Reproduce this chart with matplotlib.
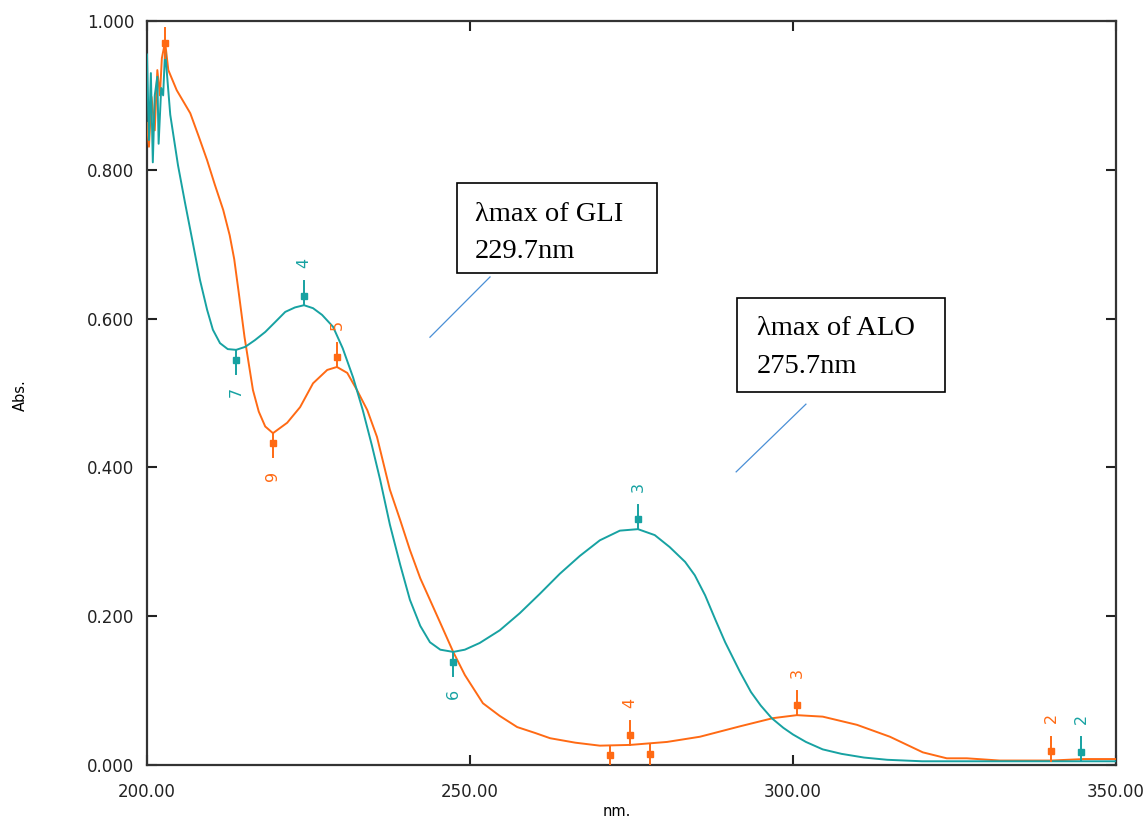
import numpy as np
import matplotlib
matplotlib.use("Agg")
import matplotlib.pyplot as plt
from matplotlib.patches import Rectangle

# UV spectra (wavelength nm, absorbance)
gli_nm = [200.0, 200.3, 200.6, 200.9, 201.2, 201.6, 201.8, 202.2, 202.5, 202.8,
          203.6, 204.8, 205.9, 207.0, 208.2, 209.3, 210.2, 211.3, 212.5, 213.8,
          215.2, 216.7, 218.3, 219.8, 221.4, 222.9, 224.3, 225.7, 227.1, 228.8,
          230.3, 231.9, 233.4, 234.8, 236.1, 237.6, 239.2, 240.7, 242.3, 243.8,
          245.4, 247.4, 249.2, 251.5, 254.6, 257.7, 260.8, 263.9, 267.0, 270.1,
          273.2, 276.0, 278.6, 280.9, 283.3, 284.8, 286.4, 288.0, 289.5, 291.8,
          293.5, 295.0, 296.7, 298.5, 300.0, 302.0, 304.6, 307.5, 311.0, 314.6,
          320.0, 330.0, 340.0, 350.0]
gli_abs = [0.955, 0.84, 0.93, 0.81, 0.90, 0.925, 0.835, 0.91, 0.90, 0.960,
           0.874, 0.806, 0.755, 0.706, 0.652, 0.612, 0.585, 0.567, 0.559, 0.558,
           0.562, 0.571, 0.582, 0.595, 0.609, 0.615, 0.618, 0.614, 0.605, 0.589,
           0.560, 0.521, 0.477, 0.430, 0.383, 0.323, 0.269, 0.222, 0.187, 0.165,
           0.155, 0.152, 0.155, 0.164, 0.181, 0.204, 0.230, 0.257, 0.281, 0.302,
           0.315, 0.317, 0.309, 0.293, 0.273, 0.255, 0.228, 0.195, 0.165, 0.125,
           0.098, 0.080, 0.063, 0.050, 0.041, 0.031, 0.021, 0.015, 0.010, 0.007,
           0.005, 0.005, 0.005, 0.005]

alo_nm = [200.0, 200.3, 200.7, 201.2, 201.6, 202.0, 202.3, 202.8, 203.3, 204.6,
          206.7, 208.0, 209.3, 210.5, 211.8, 212.8, 213.5, 214.2, 215.1, 216.4,
          217.3, 218.3, 219.5, 221.7, 223.7, 225.7, 227.9, 229.4, 231.0, 232.5,
          234.1, 235.6, 237.6, 239.2, 240.7, 242.3, 243.8, 245.4, 247.4, 249.2,
          252.0, 254.6, 257.3, 260.1, 262.4, 266.3, 270.1, 274.8, 280.5, 285.6,
          291.8, 296.9, 300.6, 304.6, 309.9, 315.0, 320.1, 323.8, 326.9, 332.0,
          340.0, 345.0, 350.0]
alo_abs = [0.863, 0.831, 0.898, 0.853, 0.934, 0.90, 0.950, 0.972, 0.934, 0.907,
           0.876, 0.845, 0.813, 0.780, 0.746, 0.712, 0.680, 0.635, 0.575, 0.504,
           0.475, 0.455, 0.446, 0.460, 0.481, 0.513, 0.531, 0.535, 0.527, 0.504,
           0.477, 0.441, 0.370, 0.329, 0.289, 0.251, 0.222, 0.191, 0.152, 0.121,
           0.083, 0.066, 0.051, 0.043, 0.036, 0.030, 0.026, 0.027, 0.031, 0.038,
           0.052, 0.063, 0.067, 0.065, 0.054, 0.038, 0.017, 0.009, 0.009, 0.006,
           0.006, 0.008, 0.008]

# peak / valley picks: (nm, abs, label, direction +1 peak, -1 valley)
gli_picks = [(224.3, 0.618, "4", 1), (276.0, 0.317, "3", 1), (344.6, 0.005, "2", 1),
             (213.8, 0.558, "7", -1), (247.4, 0.152, "6", -1)]
alo_picks = [(229.4, 0.535, "5", 1), (274.8, 0.027, "4", 1), (300.6, 0.067, "3", 1),
             (340.0, 0.006, "2", 1), (219.5, 0.446, "9", -1),
             (271.7, 0.026, "", -1), (277.9, 0.028, "", -1)]

teal = "#17a2a2"
orange = "#ff6a14"

fig = plt.figure(figsize=(11.46, 8.23), dpi=100)
ax = fig.add_axes([147 / 1146, 1 - 765 / 823, (1116 - 147) / 1146, (765 - 21) / 823])

ax.plot(alo_nm, alo_abs, color=orange, lw=1.4, zorder=3)
ax.plot(gli_nm, gli_abs, color=teal, lw=1.4, zorder=4)


def picks(items, color):
    for x, y, lab, d in items:
        y1 = max(y + d * 0.032, 0.0)
        ax.plot([x, x], [y, y1], color=color, lw=1.4, zorder=5)
        ax.plot(x, y + d * 0.013, marker="s", ms=4.5, color=color, zorder=5)
        if lab:
            ax.text(x, y + d * 0.057, lab, color=color, fontsize=11.5, rotation=90,
                    ha="center", va="center", zorder=5)


picks(alo_picks, orange)
picks(gli_picks, teal)
# orange pick on the spike near 203 nm
ax.plot([202.8, 202.8], [0.95, 0.99], color=orange, lw=1.4, zorder=5)
ax.plot(202.8, 0.97, marker="s", ms=4.5, color=orange, zorder=5)

ax.set_xlim(200, 350)
ax.set_ylim(0, 1)
ax.set_xticks([200, 250, 300, 350])
ax.set_xticklabels(["200.00", "250.00", "300.00", "350.00"])
ax.set_yticks([0, 0.2, 0.4, 0.6, 0.8, 1.0])
ax.set_yticklabels(["0.000", "0.200", "0.400", "0.600", "0.800", "1.000"])
ax.tick_params(direction="in", length=7, width=1.5, top=True, right=True,
               labelsize=12, colors="#222222")
ax.tick_params(axis="x", pad=13)
ax.tick_params(axis="y", pad=9)
for s in ax.spines.values():
    s.set_linewidth(1.6)
    s.set_color("#333333")

fig.text(617 / 1146, 1 - 812 / 823, "nm.", fontsize=10.5, ha="center", va="center")
fig.text(20 / 1146, 1 - 395 / 823, "Abs.", fontsize=10.5, rotation=90,
         ha="center", va="center")

# annotation boxes
serif = "Liberation Serif"
ax.add_patch(Rectangle((248.0, 0.661), 30.9, 0.121, fill=False, lw=1.2,
                       edgecolor="black", zorder=6))
ax.text(250.8, 0.740, "λmax of GLI", family=serif, fontsize=20.5, va="center", zorder=6)
ax.text(250.8, 0.690, "229.7nm", family=serif, fontsize=20.5, va="center", zorder=6)
ax.plot([253.1, 243.8], [0.656, 0.575], color="#4a8fd6", lw=0.9)

ax.add_patch(Rectangle((291.3, 0.501), 32.2, 0.127, fill=False, lw=1.2,
                       edgecolor="black", zorder=6))
ax.text(294.4, 0.587, "λmax of ALO", family=serif, fontsize=20.5, va="center", zorder=6)
ax.text(294.4, 0.535, "275.7nm", family=serif, fontsize=20.5, va="center", zorder=6)
ax.plot([302.0, 291.2], [0.485, 0.394], color="#4a8fd6", lw=0.9)

fig.savefig("out.png", dpi=100)
